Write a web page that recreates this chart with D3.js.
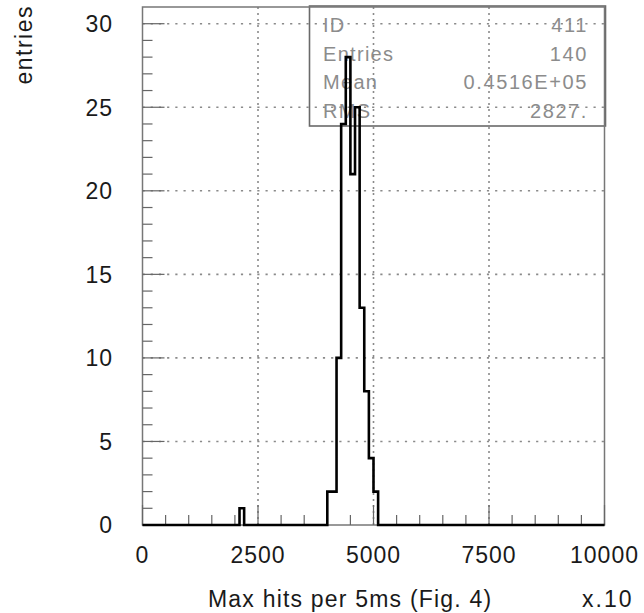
<!DOCTYPE html>
<html>
<head>
<meta charset="utf-8">
<script src="https://cdn.jsdelivr.net/npm/d3@7"></script>
<style>
html,body{margin:0;padding:0;background:#fff;}
svg{display:block;}
</style>
</head>
<body>
<svg id="c" width="644" height="613"></svg>
<script>
// ---- data ----
const binWidth = 100;                 // x units (x10)
const nBins = 100;
const binLow = [2100, 4000, 4100, 4200, 4300, 4400, 4500, 4600, 4700, 4800, 4900, 5000];
const counts = [1, 2, 2, 10, 24, 28, 21, 25, 13, 8, 4, 2];
const xTickLabels = ["0", "2500", "5000", "7500", "10000"];
const xTickValues = [0, 2500, 5000, 7500, 10000];
const yTickValues = [0, 5, 10, 15, 20, 25, 30];
const statNames = ["ID", "Entries", "Mean", "RMS"];
const statValues = ["411", "140", "0.4516E+05", "2827."];
const xTitle = "Max hits per 5ms (Fig. 4)";
const xMult = "x.10";
const yTitle = "entries";

// full histogram contents
const contents = new Array(nBins).fill(0);
binLow.forEach((b, i) => { contents[Math.round(b / binWidth)] = counts[i]; });

const svg = d3.select("#c");
const L = 142.5, R = 604.5, T = 7, B = 525;
const x = d3.scaleLinear().domain([0, 10000]).range([L, R]);
const y = d3.scaleLinear().domain([0, 31]).range([B, T]);

const font = "'Liberation Sans', Arial, Helvetica, sans-serif";

// stats box (drawn first, unfilled)
const box = {x0: 309.5, y0: 6, x1: 605.5, y1: 126};
svg.append("rect")
  .attr("x", box.x0).attr("y", box.y0)
  .attr("width", box.x1 - box.x0).attr("height", box.y1 - box.y0)
  .attr("fill", "none").attr("stroke", "#6a6a6a").attr("stroke-width", 1.6);
statNames.forEach((n, i) => {
  const by = 32 + i * 28.5;
  svg.append("text").attr("x", 323).attr("y", by).text(n)
    .attr("font-family", font).attr("font-size", 20).attr("letter-spacing", 1.3)
    .attr("fill", "#8c8c8c");
  svg.append("text").attr("x", 588).attr("y", by).text(statValues[i])
    .attr("text-anchor", "end")
    .attr("font-family", font).attr("font-size", 20).attr("letter-spacing", 1.6)
    .attr("fill", "#8c8c8c");
});

// grid
const grid = svg.append("g").attr("stroke", "#8a8a8a").attr("stroke-width", 1.6)
  .attr("stroke-dasharray", "2.2,6");
yTickValues.filter(v => v > 0).forEach(v => {
  grid.append("line").attr("x1", L).attr("x2", R).attr("y1", y(v)).attr("y2", y(v));
});
[2500, 5000, 7500].forEach(v => {
  grid.append("line").attr("x1", x(v)).attr("x2", x(v)).attr("y1", B).attr("y2", T)
    .attr("stroke-dasharray", "2,4");
});

// frame
svg.append("rect").attr("x", L).attr("y", T).attr("width", R - L).attr("height", B - T)
  .attr("fill", "none").attr("stroke", "#777").attr("stroke-width", 1.5);

// ticks
const ticks = svg.append("g").attr("stroke", "#666").attr("stroke-width", 1.2);
d3.range(0, 10001, 500).forEach(v => {
  const len = (v % 2500 === 0) ? 20 : 10;
  ticks.append("line").attr("x1", x(v)).attr("x2", x(v)).attr("y1", B).attr("y2", B - len);
});
d3.range(0, 31, 1).forEach(v => {
  const len = (v % 5 === 0) ? 22 : 10;
  ticks.append("line").attr("x1", L).attr("x2", L + len).attr("y1", y(v)).attr("y2", y(v));
});

// histogram outline
const pts = contents.map((c, i) => [i * binWidth, c]);
pts.push([nBins * binWidth, contents[nBins - 1]]);
const line = d3.line().x(d => x(d[0])).y(d => y(d[1])).curve(d3.curveStepAfter);
svg.append("path").attr("d", line(pts))
  .attr("fill", "none").attr("stroke", "#000").attr("stroke-width", 2.6)
  .attr("stroke-linejoin", "miter");

// tick labels
yTickValues.forEach(v => {
  svg.append("text").attr("x", 113).attr("y", y(v)).attr("dy", "0.36em")
    .attr("text-anchor", "end").text(String(v))
    .attr("font-family", font).attr("font-size", 23).attr("letter-spacing", 1)
    .attr("fill", "#1a1a1a");
});
xTickValues.forEach((v, i) => {
  svg.append("text").attr("x", x(v)).attr("y", 563)
    .attr("text-anchor", "middle").text(xTickLabels[i])
    .attr("font-family", font).attr("font-size", 23).attr("letter-spacing", 1)
    .attr("fill", "#1a1a1a");
});

// axis titles
svg.append("text").attr("x", 208).attr("y", 607).text(xTitle)
  .attr("font-family", font).attr("font-size", 23).attr("letter-spacing", 1.2)
  .attr("fill", "#1a1a1a");
svg.append("text").attr("x", 582).attr("y", 607).text(xMult)
  .attr("font-family", font).attr("font-size", 23).attr("letter-spacing", 2)
  .attr("fill", "#1a1a1a");
svg.append("text").attr("transform", "translate(32,5) rotate(-90)")
  .attr("text-anchor", "end").text(yTitle)
  .attr("font-family", font).attr("font-size", 23).attr("letter-spacing", 1.5)
  .attr("fill", "#1a1a1a");
</script>
</body>
</html>
